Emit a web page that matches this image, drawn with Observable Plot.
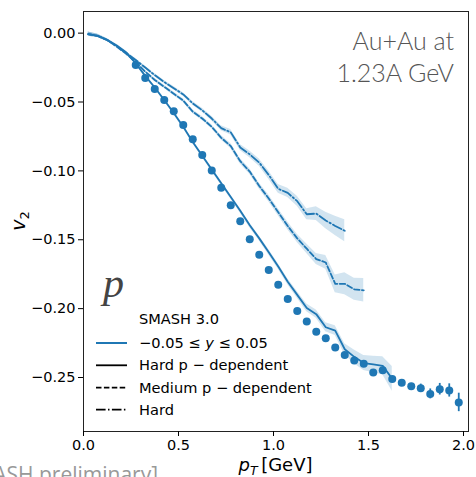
<!DOCTYPE html>
<html><head><meta charset="utf-8">
<script src="https://cdn.jsdelivr.net/npm/d3@7"></script>
<script src="https://cdn.jsdelivr.net/npm/@observablehq/plot@0.6"></script>
<style>
html,body{margin:0;padding:0;background:#fff;overflow:hidden}
#wrap{position:relative;width:476px;height:477px}
</style>
</head><body><div id="wrap"></div>
<script>
// ---- Data ----
const dataPt = [0.275,0.325,0.375,0.425,0.475,0.525,0.575,0.625,0.675,0.725,0.775,0.825,0.875,0.925,0.975,1.025,1.075,1.125,1.175,1.225,1.275,1.325,1.375,1.425,1.475,1.525,1.575,1.625,1.675,1.725,1.775,1.825,1.875,1.925,1.975];
const dataV2 = [-0.0232,-0.0326,-0.0406,-0.0486,-0.0568,-0.0667,-0.0770,-0.0884,-0.0998,-0.1123,-0.1249,-0.1365,-0.1496,-0.1609,-0.1720,-0.1826,-0.1930,-0.2017,-0.2094,-0.2167,-0.2215,-0.2283,-0.2336,-0.2377,-0.2401,-0.2464,-0.2447,-0.2510,-0.2539,-0.2563,-0.2578,-0.2619,-0.2585,-0.2594,-0.2681];
const dataErr = [0.0015,0.0015,0.0015,0.0015,0.0015,0.0015,0.0015,0.0015,0.0015,0.0015,0.0015,0.0015,0.0015,0.0015,0.0015,0.0015,0.0015,0.0015,0.0015,0.0015,0.0015,0.0015,0.0015,0.0015,0.0015,0.0015,0.0015,0.0018,0.002,0.002,0.003,0.0036,0.0042,0.0048,0.0067];

const theoryPt = [0.025,0.075,0.125,0.175,0.225,0.275,0.325,0.375,0.425,0.475,0.525,0.575,0.625,0.675,0.725,0.775,0.825,0.875,0.925,0.975,1.025,1.075,1.125,1.175,1.225,1.275,1.325,1.375,1.425,1.475,1.525,1.575,1.625];
// Hard p-dependent (solid)
const hardPdepV2 = [-0.0007,-0.002,-0.005,-0.009,-0.014,-0.022,-0.031,-0.0395,-0.0485,-0.058,-0.068,-0.079,-0.089,-0.099,-0.109,-0.119,-0.129,-0.1395,-0.149,-0.159,-0.1695,-0.1805,-0.190,-0.1995,-0.204,-0.2135,-0.216,-0.2295,-0.235,-0.2395,-0.2405,-0.2415,-0.251];
const hardPdepErr = [0.0015,0.0012,0.001,0.001,0.001,0.001,0.001,0.001,0.001,0.0012,0.0012,0.0012,0.0013,0.0014,0.0015,0.0015,0.0016,0.0017,0.0018,0.002,0.002,0.0022,0.0025,0.0028,0.003,0.0032,0.0035,0.004,0.005,0.0055,0.006,0.0065,0.009];
// Medium p-dependent (dashed)
const mediumPdepV2 = [-0.0007,-0.002,-0.005,-0.0098,-0.015,-0.021,-0.028,-0.034,-0.039,-0.044,-0.049,-0.057,-0.062,-0.068,-0.076,-0.082,-0.093,-0.1005,-0.111,-0.120,-0.130,-0.140,-0.149,-0.1565,-0.164,-0.1665,-0.182,-0.182,-0.186,-0.1867];
const mediumPdepErr = [0.0015,0.0012,0.001,0.001,0.001,0.001,0.001,0.0012,0.0012,0.0012,0.0013,0.0014,0.0015,0.0015,0.0016,0.0018,0.002,0.002,0.0022,0.0025,0.0025,0.0028,0.003,0.0035,0.004,0.005,0.0065,0.008,0.008,0.0085];
// Hard (dash-dot)
const hardV2 = [-0.0007,-0.002,-0.005,-0.0095,-0.0145,-0.0195,-0.025,-0.0305,-0.0355,-0.040,-0.0445,-0.051,-0.056,-0.062,-0.069,-0.072,-0.083,-0.088,-0.094,-0.103,-0.113,-0.116,-0.122,-0.1315,-0.131,-0.136,-0.140,-0.1435];
const hardErr = [0.0015,0.0012,0.001,0.001,0.001,0.001,0.001,0.0012,0.0012,0.0012,0.0013,0.0014,0.0015,0.0016,0.0018,0.002,0.0022,0.0024,0.0026,0.003,0.0032,0.0034,0.0036,0.004,0.005,0.006,0.007,0.008];

const xTicks = [0, 0.5, 1.0, 1.5, 2.0];
const yTicks = [0, -0.05, -0.10, -0.15, -0.20, -0.25];

const legendTitle = "SMASH 3.0";
const legendLabels = ["Hard p \u2212 dependent", "Medium p \u2212 dependent", "Hard"];
const annotationLines = ["Au+Au at", "1.23A GeV"];

// ---- build tables ----
const mk = (xs, ys, es) => ys.map((v, i) => ({x: xs[i], y: v, lo: v - es[i], hi: v + es[i]}));
const solid = mk(theoryPt, hardPdepV2, hardPdepErr);
const dashed = mk(theoryPt, mediumPdepV2, mediumPdepErr);
const dashdot = mk(theoryPt, hardV2, hardErr);
const points = mk(dataPt, dataV2, dataErr);

const C = "#1f77b4";
const DASH = "5.5,2.4";
const DASHDOT = "9.6,2.4,1.5,2.4";

const chart = Plot.plot({
  width: 476, height: 477,
  marginLeft: 83, marginRight: 8, marginTop: 11, marginBottom: 46,
  style: {fontFamily: "DejaVu Sans", fontSize: "14.5px", color: "#000", background: "#fff"},
  x: {domain: [0, 2.0263]},
  y: {domain: [-0.2892, 0.0157]},
  marks: [
    Plot.areaY(solid, {x: "x", y1: "lo", y2: "hi", fill: C, fillOpacity: 0.2}),
    Plot.areaY(dashed, {x: "x", y1: "lo", y2: "hi", fill: C, fillOpacity: 0.2}),
    Plot.areaY(dashdot, {x: "x", y1: "lo", y2: "hi", fill: C, fillOpacity: 0.2}),
    Plot.lineY(solid, {x: "x", y: "y", stroke: C, strokeWidth: 1.8}),
    Plot.lineY(dashed, {x: "x", y: "y", stroke: C, strokeWidth: 1.8, strokeDasharray: DASH}),
    Plot.lineY(dashdot, {x: "x", y: "y", stroke: C, strokeWidth: 1.8, strokeDasharray: DASHDOT}),
    Plot.ruleX(points, {x: "x", y1: "lo", y2: "hi", stroke: C, strokeWidth: 1.8}),
    Plot.dot(points, {x: "x", y: "y", r: 4, fill: C}),
    Plot.frame({stroke: "#222", strokeWidth: 1}),
    Plot.axisX({ticks: xTicks, tickFormat: d3.format(".1f"), tickSize: 5, tickPadding: 3, label: null}),
    Plot.axisY({ticks: yTicks, tickFormat: d3.format(".2f"), tickSize: 5, tickPadding: 3, label: null})
  ]
});
document.getElementById("wrap").appendChild(chart);

const svg = d3.select(chart);
// y label
const yl = svg.append("text").attr("transform", "translate(25,221) rotate(-90)")
  .attr("text-anchor", "middle").attr("font-family", "DejaVu Sans").attr("font-size", 19);
yl.append("tspan").attr("font-style", "italic").text("v");
yl.append("tspan").attr("font-size", 13).attr("dy", 4).text("2");
// x label
const xl = svg.append("text").attr("x", 275.5).attr("y", 471)
  .attr("text-anchor", "middle").attr("font-family", "DejaVu Sans").attr("font-size", 18);
xl.append("tspan").attr("font-style", "italic").text("p");
xl.append("tspan").attr("font-style", "italic").attr("font-size", 12.5).attr("dy", 4).text("T");
xl.append("tspan").attr("dy", -4).text("\u2009[GeV]");

// annotation top-right
annotationLines.forEach((t, i) => {
  svg.append("text").attr("x", 454).attr("y", 50 + i * 32).attr("text-anchor", "end")
    .attr("font-family", "Lato").attr("font-weight", 300).attr("font-size", 25).attr("fill", "#555").text(t);
});
// particle label
svg.append("text").attr("x", 103).attr("y", 297).attr("text-anchor", "start").attr("font-family", "Liberation Serif")
  .attr("font-style", "italic").attr("font-size", 42).attr("fill", "#444").text("p");

// legend
const lg = svg.append("g").attr("font-family", "DejaVu Sans").attr("font-size", 14.6).attr("text-anchor", "start");
lg.append("text").attr("x", 139).attr("y", 319).attr("dy", "0.35em").text(legendTitle);
const rowY = [343, 365.3, 387.7, 409.7];
lg.append("line").attr("x1", 96).attr("x2", 127).attr("y1", rowY[0]).attr("y2", rowY[0]).attr("stroke", C).attr("stroke-width", 2);
const t0 = lg.append("text").attr("x", 139).attr("y", rowY[0]).attr("dy", "0.35em");
t0.append("tspan").text("\u22120.05 \u2264 ");
t0.append("tspan").attr("font-style", "italic").text("y");
t0.append("tspan").text(" \u2264 0.05");
const dashes = [null, DASH, DASHDOT];
legendLabels.forEach((lab, i) => {
  const y = rowY[i + 1];
  lg.append("line").attr("x1", 96).attr("x2", 127).attr("y1", y).attr("y2", y)
    .attr("stroke", "#000").attr("stroke-width", 1.8).attr("stroke-dasharray", dashes[i]);
  lg.append("text").attr("x", 139).attr("y", y).attr("dy", "0.35em").text(lab);
});

// cut-off footer (cropped in the reference as well)
svg.append("text").attr("x", -44).attr("y", 482).attr("text-anchor", "start").attr("font-family", "Open Sans")
  .attr("font-size", 21).attr("fill", "#999").text("[SMASH preliminary]");
</script>
</body></html>
